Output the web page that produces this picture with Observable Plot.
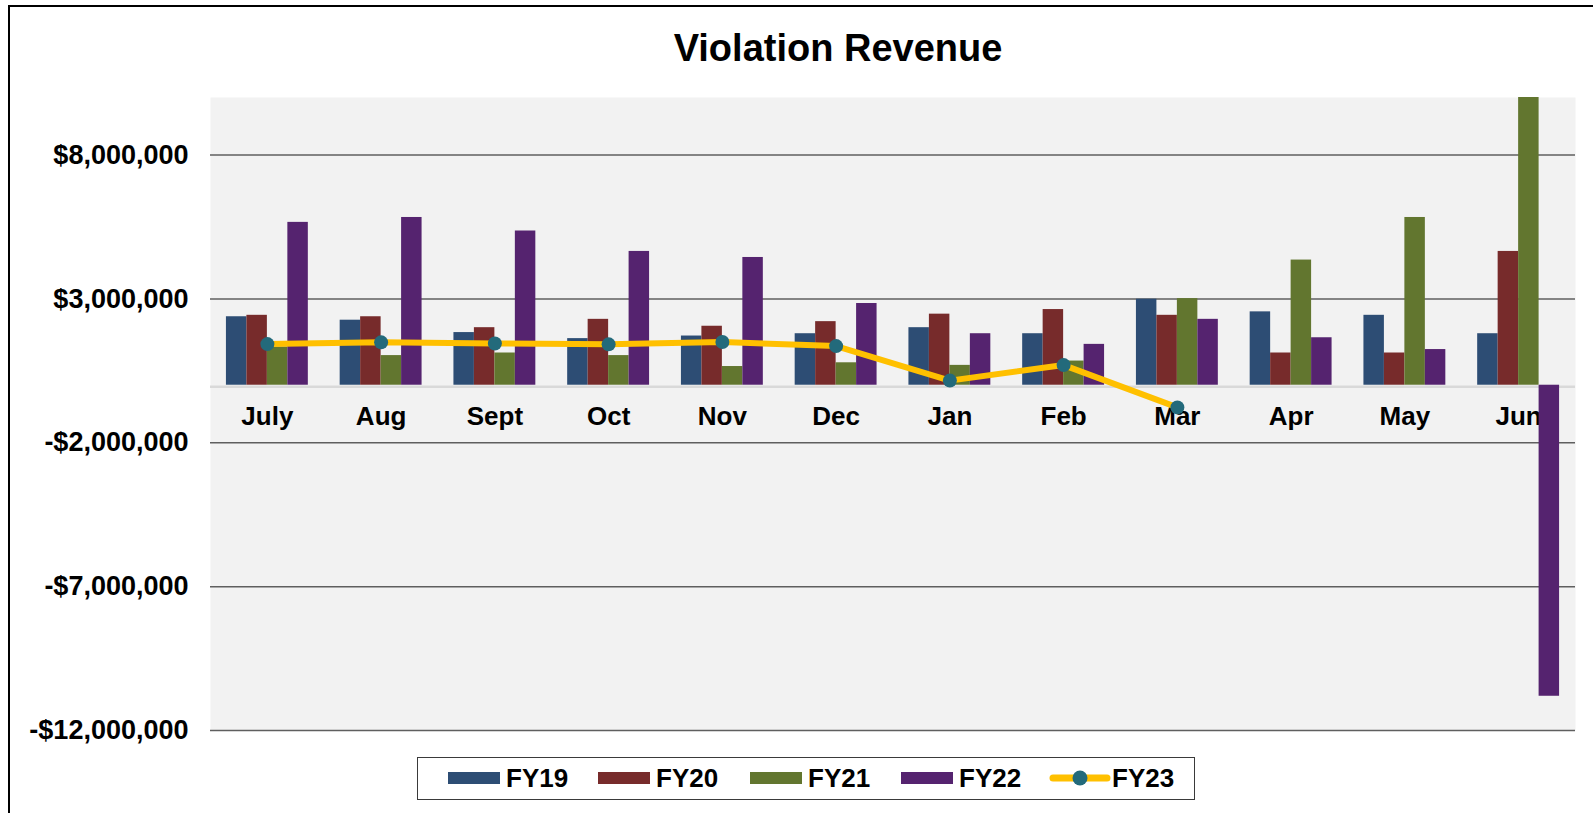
<!DOCTYPE html>
<html>
<head>
<meta charset="utf-8">
<script src="https://cdn.jsdelivr.net/npm/d3@7"></script>
<script src="https://cdn.jsdelivr.net/npm/@observablehq/plot@0.6"></script>
<style>
  body { margin: 0; background: #fff; font-family: "Liberation Sans", Arial, sans-serif; }
  #wrap { position: relative; width: 1593px; height: 813px; overflow: hidden; }
  #frame { position: absolute; left: 8px; top: 5px; width: 1700px; height: 900px; border: 2px solid #000; box-sizing: border-box; }
  #title { position: absolute; left: 0; width: 1676px; top: 25px; text-align: center; font-weight: bold; font-size: 38px; color: #000; line-height: 46px; }
  #chart { position: absolute; left: 0; top: 0; }
  #legend { position: absolute; left: 417px; top: 757px; width: 778px; height: 43px; border: 1.5px solid #3a3a3a; box-sizing: border-box; background: #fff; }
  .item { position: absolute; top: 0; height: 40px; display: flex; align-items: center; font-weight: bold; font-size: 26px; color: #000; }
  .sw { width: 52px; height: 12px; margin-right: 6px; }
</style>
</head>
<body>
<div id="wrap">
  <div id="frame"></div>
  <div id="title">Violation Revenue</div>
  <div id="chart"></div>
  <div id="legend"></div>
</div>
<script>
const months = ["July","Aug","Sept","Oct","Nov","Dec","Jan","Feb","Mar","Apr","May","Jun"];
const barSeries = ["FY19","FY20","FY21","FY22"];
const fy19 = [2.38e6,2.26e6,1.83e6,1.62e6,1.71e6,1.79e6,2.00e6,1.79e6,2.99e6,2.55e6,2.43e6,1.79e6];
const fy20 = [2.43e6,2.38e6,2.00e6,2.29e6,2.05e6,2.21e6,2.47e6,2.63e6,2.43e6,1.12e6,1.12e6,4.65e6];
const fy21 = [1.33e6,1.03e6,1.12e6,1.03e6,0.65e6,0.78e6,0.69e6,0.84e6,3.01e6,4.35e6,5.83e6,10.4e6];
const fy22 = [5.66e6,5.83e6,5.36e6,4.65e6,4.44e6,2.84e6,1.79e6,1.42e6,2.29e6,1.65e6,1.24e6,-10.81e6];
const fy23 = [1.43e6,1.49e6,1.45e6,1.42e6,1.50e6,1.36e6,0.16e6,0.70e6,-0.77e6];
const yTicks = [-12e6,-7e6,-2e6,3e6,8e6];
const barColors = ["#2D4D74","#772B2B","#62762F","#55236F"];
const lineColor = "#FFC000";
const markerColor = "#236A7B";

const barValues = [fy19, fy20, fy21, fy22];
const bars = [];
barValues.forEach((arr, k) => arr.forEach((v, i) => bars.push({i, k, series: barSeries[k], value: v})));
const lineData = fy23.map((v, i) => ({i, value: v}));
const monthData = months.map((m, i) => ({i, m}));

const groupW = 0.72, barW = groupW / 4;
const fmt = d => (d < 0 ? "-" : "") + "$" + d3.format(",")(Math.abs(d));

const chart = Plot.plot({
  width: 1593,
  height: 752,
  marginTop: 97,
  marginBottom: 22,
  marginLeft: 210,
  marginRight: 18,
  style: {fontFamily: "Liberation Sans, Arial, sans-serif", background: "transparent", overflow: "visible"},
  x: {type: "linear", domain: [-0.5, 11.5], axis: null},
  y: {domain: [-12e6, 10e6], axis: null},
  color: {domain: barSeries, range: barColors},
  marks: [
    Plot.frame({fill: "#F2F2F2", stroke: null}),
    Plot.ruleY(yTicks, {stroke: "#5f5f5f", strokeWidth: 1.5}),
    Plot.axisY({ticks: yTicks, tickFormat: fmt, tickSize: 0, tickPadding: 22, fontSize: 27, fontWeight: "bold", fill: "#000", label: null}),
    Plot.ruleY([0], {stroke: "#D9D9D9", strokeWidth: 2.5, dy: 1.5}),
    Plot.text(monthData, {x: "i", y: () => 0, text: "m", dy: 31, fontSize: 26, fontWeight: "bold", fill: "#000"}),
    Plot.rectY(bars, {
      x1: d => d.i - groupW / 2 + d.k * barW,
      x2: d => d.i - groupW / 2 + (d.k + 1) * barW,
      y1: () => 0,
      y2: "value",
      fill: "series",
      clip: true
    }),
    Plot.line(lineData, {x: "i", y: "value", stroke: lineColor, strokeWidth: 6, strokeLinejoin: "round", strokeLinecap: "round"}),
    Plot.dot(lineData, {x: "i", y: "value", r: 7, fill: markerColor, stroke: null})
  ]
});
document.getElementById("chart").appendChild(chart);

// legend
const legend = document.getElementById("legend");
const itemLeft = [30, 180, 332, 483];
barSeries.forEach((s, k) => {
  const it = document.createElement("div");
  it.className = "item";
  it.style.left = itemLeft[k] + "px";
  it.innerHTML = `<div class="sw" style="background:${barColors[k]}"></div><span>${s}</span>`;
  legend.appendChild(it);
});
const it5 = document.createElement("div");
it5.className = "item";
it5.style.left = "631px";
it5.innerHTML = `<svg width="62" height="20" style="margin-right:1px"><line x1="4" x2="58" y1="10" y2="10" stroke="${lineColor}" stroke-width="7" stroke-linecap="round"/><circle cx="31" cy="10" r="7.5" fill="${markerColor}"/></svg><span>FY23</span>`;
legend.appendChild(it5);
</script>
</body>
</html>
